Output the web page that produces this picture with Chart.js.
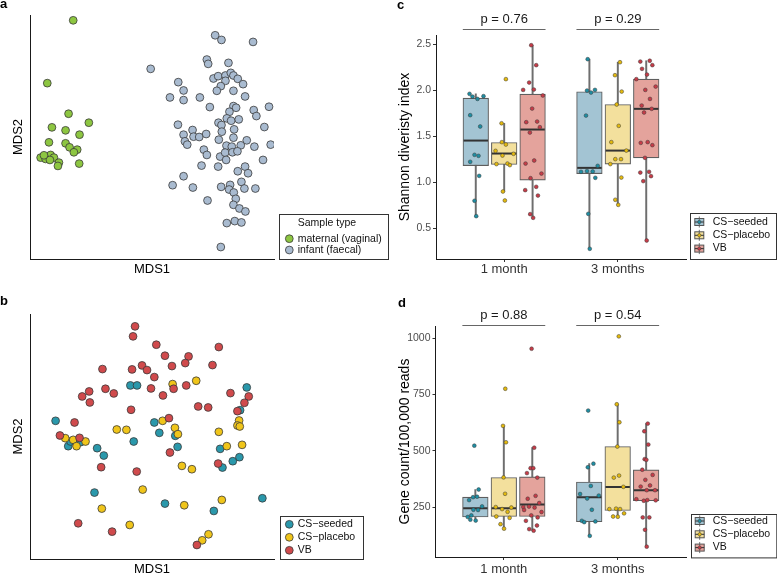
<!DOCTYPE html>
<html>
<head>
<meta charset="utf-8">
<script src="https://cdn.jsdelivr.net/npm/chart.js@4.4.1/dist/chart.umd.min.js"></script>
<style>
  html, body { margin: 0; padding: 0; background: #fff; }
  #fig { position: relative; width: 777px; height: 574px; overflow: hidden; }
  #fig canvas { position: absolute; }
  .tag { position: absolute; font: bold 13px/13px "Liberation Sans", Arial, sans-serif; color: #000; }
</style>
</head>
<body>
<div id="fig">
  <canvas id="mdsAll" width="390" height="281" style="left:0;top:0"></canvas>
  <canvas id="mdsInfant" width="390" height="296" style="left:0;top:287px"></canvas>
  <canvas id="shannon" width="382" height="287" style="left:395px;top:0"></canvas>
  <canvas id="genes" width="382" height="296" style="left:395px;top:287px"></canvas>
  <div class="tag" style="left:0;top:-3px">a</div>
  <div class="tag" style="left:0;top:294px">b</div>
  <div class="tag" style="left:397px;top:-2px">c</div>
  <div class="tag" style="left:398px;top:296px">d</div>
</div>
<script>
// a: MDS of maternal vaginal vs infant faecal samples [MDS1, MDS2]
var maternalPts = [
  [-0.237, 0.351], [-0.315, 0.162], [-0.251, 0.070], [-0.190, 0.043], [-0.301, 0.029], [-0.260, 0.020],
  [-0.218, 0.007], [-0.310, -0.016], [-0.260, -0.019], [-0.248, -0.031], [-0.225, -0.038], [-0.235, -0.046],
  [-0.219, -0.080], [-0.327, -0.059], [-0.335, -0.062], [-0.305, -0.054], [-0.295, -0.062], [-0.320, -0.066],
  [-0.307, -0.069], [-0.280, -0.077], [-0.283, -0.087], [-0.325, -0.055]
];
var infantPts = [
  [0.190, 0.306], [0.209, 0.292], [0.304, 0.286], [-0.004, 0.205], [0.165, 0.233], [0.169, 0.220], [0.230, 0.223],
  [0.079, 0.165], [0.095, 0.140], [0.054, 0.119], [0.095, 0.111], [0.144, 0.119], [0.185, 0.176], [0.199, 0.183],
  [0.221, 0.185], [0.221, 0.169], [0.237, 0.193], [0.245, 0.185], [0.258, 0.175], [0.274, 0.159], [0.207, 0.153],
  [0.195, 0.139], [0.245, 0.139], [0.280, 0.122], [0.174, 0.090], [0.245, 0.093], [0.253, 0.088], [0.233, 0.076],
  [0.225, 0.056], [0.306, 0.081], [0.352, 0.091], [0.314, 0.063], [0.078, 0.037], [0.122, 0.021], [0.095, 0.007],
  [0.125, 0.001], [0.142, 0.000], [0.163, 0.009], [0.099, -0.013], [0.106, -0.023], [0.200, 0.043], [0.209, 0.036],
  [0.238, 0.049], [0.261, 0.053], [0.247, 0.023], [0.210, 0.016], [0.201, -0.008], [0.245, -0.002], [0.285, -0.010],
  [0.224, -0.026], [0.240, -0.029], [0.267, -0.025], [0.308, -0.029], [0.357, -0.023], [0.338, 0.030], [0.156, -0.038],
  [0.165, -0.054], [0.205, -0.059], [0.220, -0.047], [0.242, -0.046], [0.257, -0.043], [0.223, -0.069], [0.149, -0.086],
  [0.199, -0.089], [0.258, -0.103], [0.280, -0.089], [0.289, -0.109], [0.334, -0.069], [0.095, -0.118], [0.062, -0.145],
  [0.123, -0.152], [0.208, -0.150], [0.235, -0.144], [0.232, -0.158], [0.246, -0.167], [0.269, -0.135], [0.278, -0.155],
  [0.311, -0.155], [0.167, -0.191], [0.252, -0.186], [0.245, -0.204], [0.263, -0.215], [0.281, -0.224], [0.225, -0.259],
  [0.249, -0.253], [0.269, -0.257], [0.207, -0.331]
];

// b: MDS of infant samples by group
var seededPts = [
  [-0.290, 0.047], [-0.252, -0.029], [-0.245, -0.015], [-0.215, -0.017], [-0.165, -0.035], [-0.145, -0.057],
  [-0.065, 0.153], [-0.045, 0.153], [-0.055, -0.015], [0.007, 0.042], [0.022, 0.011], [0.070, 0.002],
  [0.077, -0.031], [0.205, -0.037], [0.212, -0.093], [0.243, -0.074], [0.263, -0.062], [0.285, 0.147],
  [0.265, 0.079], [-0.173, -0.168], [0.039, -0.201], [0.186, -0.223], [0.332, -0.185]
];
var placeboPts = [
  [-0.261, -0.005], [-0.237, -0.010], [-0.227, -0.029], [-0.200, -0.015], [-0.106, 0.021], [-0.077, 0.020],
  [0.062, 0.157], [0.133, 0.167], [0.032, 0.047], [0.069, 0.026], [0.078, 0.007], [0.201, 0.014],
  [0.262, 0.048], [0.257, 0.033], [0.264, 0.030], [0.225, -0.029], [0.271, -0.025], [0.090, -0.088],
  [0.120, -0.098], [-0.028, -0.159], [-0.151, -0.216], [0.097, -0.206], [0.210, -0.190], [-0.067, -0.265],
  [0.170, -0.293], [0.151, -0.311]
];
var vbPts = [
  [-0.051, 0.330], [-0.057, 0.300], [0.013, 0.275], [0.039, 0.242], [0.060, 0.211], [0.110, 0.240], [0.100, 0.220],
  [0.201, 0.268], [0.182, 0.214], [-0.149, 0.202], [-0.060, 0.201], [-0.030, 0.213], [-0.015, 0.199], [0.007, 0.178],
  [-0.003, 0.144], [0.065, 0.143], [0.103, 0.153], [0.033, 0.123], [-0.140, 0.143], [-0.115, 0.129], [-0.189, 0.135],
  [-0.210, 0.120], [-0.187, 0.102], [-0.063, 0.080], [0.139, 0.090], [0.169, 0.087], [0.236, 0.130], [0.291, 0.120],
  [0.278, 0.101], [0.257, 0.076], [-0.233, 0.042], [-0.277, 0.003], [-0.218, -0.004], [0.051, 0.055], [0.054, -0.048],
  [-0.153, -0.092], [-0.046, -0.105], [0.199, -0.081], [-0.222, -0.260], [-0.120, -0.285], [0.135, -0.325]
];

var groups = ['CS\u2212seeded', 'CS\u2212placebo', 'VB'];
var timepoints = ['1 month', '3 months'];

// c: Shannon index. Box rows: [low whisker, Q1, median, Q3, high whisker], 1 month x3 groups then 3 months x3
var shannonStats = [
  [0.630, 1.180, 1.452, 1.913, 1.960],
  [0.898, 1.192, 1.311, 1.431, 1.640],
  [0.612, 1.022, 1.572, 1.957, 2.489],
  [0.275, 1.093, 1.155, 1.982, 2.337],
  [0.753, 1.196, 1.343, 1.844, 2.304],
  [0.365, 1.264, 1.797, 2.120, 2.320]
];
// jittered samples [x on timepoint axis, value]
var shannonSeeded = [
  [0.695, 1.960], [0.721, 1.930], [0.765, 1.905], [0.818, 1.935], [0.701, 1.728], [0.789, 1.605], [0.739, 1.297],
  [0.774, 1.286], [0.701, 1.221], [0.780, 1.068], [0.739, 0.797], [0.754, 0.630],
  [1.735, 2.337], [1.729, 1.996], [1.764, 1.974], [1.799, 2.003], [1.720, 1.724], [1.823, 1.177], [1.676, 1.112],
  [1.729, 1.120], [1.779, 1.116], [1.802, 1.047], [1.740, 0.655], [1.753, 0.275]
];
var shannonPlacebo = [
  [1.015, 2.120], [0.977, 1.640], [0.980, 1.435], [1.015, 1.409], [0.924, 1.340], [0.985, 1.289], [1.082, 1.308],
  [0.932, 1.196], [1.029, 1.202], [1.050, 1.185], [0.989, 0.898], [1.006, 0.800],
  [2.019, 2.304], [1.975, 2.163], [2.034, 1.985], [1.990, 1.844], [2.008, 1.612], [1.943, 1.435], [2.075, 1.343],
  [1.978, 1.250], [2.028, 1.250], [1.934, 1.196], [2.031, 1.050], [1.978, 0.808], [2.004, 0.753]
];
var shannonVB = [
  [1.238, 2.489], [1.282, 2.272], [1.220, 2.083], [1.261, 2.007], [1.167, 2.003], [1.340, 1.942], [1.246, 1.800],
  [1.194, 1.652], [1.290, 1.659], [1.314, 1.598], [1.226, 1.539], [1.264, 1.235], [1.188, 1.202], [1.328, 1.093],
  [1.232, 1.043], [1.282, 0.949], [1.185, 0.913], [1.297, 0.854], [1.229, 0.652], [1.255, 0.612],
  [2.198, 2.311], [2.281, 2.320], [2.304, 2.272], [2.213, 2.232], [2.257, 2.170], [2.163, 2.120], [2.242, 2.003],
  [2.333, 2.039], [2.283, 1.905], [2.210, 1.833], [2.231, 1.757], [2.298, 1.797], [2.202, 1.427], [2.263, 1.435],
  [2.304, 1.402], [2.239, 1.264], [2.198, 1.104], [2.275, 1.112], [2.292, 1.065], [2.224, 1.011], [2.254, 0.365]
];
var shannonTicks = [0.5, 1.0, 1.5, 2.0, 2.5];
var shannonP = ['p = 0.76', 'p = 0.29'];

// d: gene count per 100,000 reads
var geneStats = [
  [190, 206, 245, 294, 328],
  [154, 208, 245, 381, 611],
  [145, 208, 261, 384, 514],
  [122, 185, 294, 361, 443],
  [207, 235, 339, 519, 707],
  [74, 278, 325, 415, 621]
];
var geneSeeded = [
  [0.741, 523], [0.779, 328], [0.730, 294], [0.765, 296], [0.695, 281], [0.809, 253], [0.733, 238], [0.774, 237],
  [0.715, 213], [0.683, 206], [0.706, 194], [0.753, 190],
  [1.741, 679], [1.787, 443], [1.738, 427], [1.764, 344], [1.670, 308], [1.834, 301], [1.732, 288], [1.773, 238],
  [1.685, 189], [1.706, 183], [1.804, 186], [1.755, 122]
];
var genePlacebo = [
  [1.013, 776], [0.993, 611], [1.019, 538], [0.998, 382], [1.011, 309], [0.929, 250], [0.985, 241], [1.033, 229],
  [1.066, 248], [0.934, 208], [1.051, 202], [0.971, 174], [1.002, 154],
  [2.010, 1009], [1.992, 707], [2.015, 627], [1.997, 519], [2.012, 390], [1.966, 381], [2.050, 340], [1.927, 241],
  [1.986, 243], [2.021, 241], [2.056, 222], [1.960, 208], [2.001, 207]
];
var geneVB = [
  [1.244, 954], [1.267, 514], [1.203, 401], [1.235, 423], [1.259, 423], [1.294, 381], [1.210, 287], [1.279, 300],
  [1.311, 268], [1.171, 250], [1.221, 252], [1.270, 248], [1.331, 228], [1.241, 213], [1.297, 204], [1.194, 189],
  [1.291, 168], [1.223, 152], [1.262, 145], [1.178, 237],
  [2.264, 621], [2.234, 587], [2.269, 528], [2.237, 463], [2.252, 460], [2.216, 416], [2.243, 371], [2.307, 393],
  [2.202, 341], [2.284, 346], [2.255, 325], [2.328, 325], [2.164, 285], [2.229, 278], [2.334, 280], [2.260, 281],
  [2.220, 204], [2.278, 204], [2.240, 149], [2.255, 74]
];
var geneTicks = [250, 500, 750, 1000];
var geneP = ['p = 0.88', 'p = 0.54'];

var FONT = '"Liberation Sans", Arial, Helvetica, sans-serif';
var EDGE = '#3a3a3a';
var DODGE = [-0.25, 0, 0.25];
var BOX_FILL = ['#a3c4d3', '#f3e09d', '#e4a39c'];
var DOT_COLOR = ['#1f8ea3', '#e3b90e', '#c63c48'];
var GROUP_COLOR = ['#2a98ab', '#f0c51a', '#d04a4c'];

Chart.defaults.font.family = FONT;
Chart.defaults.color = '#333';

var toXY = function (p) {
    return {x: p[0], y: p[1]};
};

function drawBoxKey(ctx, cx, cy, fill, dot) {
    ctx.fillStyle = fill;
    ctx.fillRect(cx - 4.5, cy - 3.5, 9, 7);
    ctx.lineWidth = 1;
    ctx.strokeStyle = '#6e6e6e';
    ctx.beginPath();
    ctx.moveTo(cx, cy - 5.5);
    ctx.lineTo(cx, cy + 5.5);
    ctx.stroke();
    ctx.strokeStyle = '#555';
    ctx.strokeRect(cx - 4.5, cy - 3.5, 9, 7);
    ctx.strokeStyle = '#333';
    ctx.beginPath();
    ctx.moveTo(cx - 4.5, cy);
    ctx.lineTo(cx + 4.5, cy);
    ctx.stroke();
    ctx.beginPath();
    ctx.arc(cx, cy, 1.7, 0, Math.PI * 2);
    ctx.fillStyle = dot;
    ctx.fill();
    ctx.lineWidth = 0.5;
    ctx.strokeStyle = EDGE;
    ctx.stroke();
}

// boxed legend to the right of the plot, bottom-aligned with the x axis
function keyLegend(o) {
    return {
        id: 'keyLegend',
        afterDraw: function (chart) {
            var ctx = chart.ctx,
                area = chart.chartArea,
                x0 = area.right + o.gap,
                y0 = area.bottom - o.height,
                items = chart.data.datasets.filter(function (d) { return d.label; });

            ctx.save();
            ctx.lineWidth = 1;
            ctx.strokeStyle = '#333';
            ctx.strokeRect(Math.round(x0) + 0.5, Math.round(y0) + 0.5, o.width, o.height);
            ctx.font = '10.5px ' + FONT;
            ctx.textBaseline = 'middle';
            ctx.textAlign = 'left';
            if (o.title) {
                ctx.fillStyle = '#111';
                ctx.fillText(o.title, x0 + o.textX, y0 + o.titleY);
            }
            items.forEach(function (d, i) {
                var cx = x0 + o.keyX,
                    cy = y0 + o.first + i * o.step;
                if (o.box) {
                    drawBoxKey(ctx, cx, cy, d.keyFill, d.backgroundColor);
                } else {
                    ctx.beginPath();
                    ctx.arc(cx, cy, 3.9, 0, Math.PI * 2);
                    ctx.fillStyle = d.backgroundColor;
                    ctx.fill();
                    ctx.lineWidth = 0.8;
                    ctx.strokeStyle = EDGE;
                    ctx.stroke();
                }
                ctx.fillStyle = '#111';
                ctx.fillText(d.label, x0 + o.textX, cy);
            });
            ctx.restore();
        }
    };
}

// p-value brackets above each timepoint
function pBracket(labels, o) {
    return {
        id: 'pBracket',
        afterDraw: function (chart) {
            var ctx = chart.ctx,
                xs = chart.scales.x,
                y = Math.round(chart.chartArea.top - o.lift) + 0.5;

            ctx.save();
            ctx.font = '13px ' + FONT;
            ctx.textAlign = 'center';
            ctx.textBaseline = 'alphabetic';
            labels.forEach(function (lab, i) {
                var l = xs.getPixelForValue(i + 1 - o.half),
                    r = xs.getPixelForValue(i + 1 + o.half);
                ctx.strokeStyle = '#666';
                ctx.lineWidth = 1;
                ctx.beginPath();
                ctx.moveTo(l, y);
                ctx.lineTo(r, y);
                ctx.stroke();
                ctx.fillStyle = '#1a1a1a';
                ctx.fillText(lab, (l + r) / 2, y - o.gap);
            });
            ctx.restore();
        }
    };
}

var mdsChart = function (id, series, lay, legend) {
    return new Chart(document.getElementById(id), {
        type: 'scatter',
        data: {
            datasets: series.map(function (s, i) {
                return {
                    label: s.label,
                    data: s.pts.map(toXY),
                    backgroundColor: s.color,
                    borderColor: EDGE,
                    borderWidth: 0.8,
                    pointRadius: 3.9,
                    order: series.length - i
                };
            })
        },
        options: {
            responsive: false,
            animation: false,
            events: [],
            layout: {padding: lay.padding},
            scales: {
                x: {
                    type: 'linear', min: -0.367, max: 0.367, bounds: 'data',
                    ticks: {display: false},
                    grid: {display: false},
                    border: {display: true, color: '#1a1a1a', width: 1},
                    title: {display: true, text: 'MDS1', color: '#000', font: {size: 13}, padding: {top: 0, bottom: lay.titleBottom}},
                    afterFit: function (s) { s.height = lay.xHeight; }
                },
                y: {
                    type: 'linear', min: -0.367, max: 0.367, bounds: 'data',
                    ticks: {display: false},
                    grid: {display: false},
                    border: {display: true, color: '#1a1a1a', width: 1},
                    title: {display: true, text: 'MDS2', color: '#000', font: {size: 13}, padding: {top: 11, bottom: 0}},
                    afterFit: function (s) { s.width = 30; }
                }
            },
            plugins: {legend: {display: false}, tooltip: {enabled: false}}
        },
        plugins: [keyLegend(legend)]
    });
};

var boxChart = function (id, stats, pts, axis, lay, legend, bracket) {
    var whiskers = [], boxes = [], medians = [], fills = [], datasets;

    stats.forEach(function (s, i) {
        var g = i % groups.length,
            x = Math.floor(i / groups.length) + 1 + DODGE[g];
        whiskers.push({x: x, y: [s[0], s[4]]});
        boxes.push({x: x, y: [s[1], s[3]]});
        medians.push({x: x, y: s[2]});
        fills.push(BOX_FILL[g]);
    });

    datasets = [
        {type: 'bar', data: whiskers, backgroundColor: '#6e6e6e', borderWidth: 0, barThickness: 1.3, grouped: false, order: 5},
        {type: 'bar', data: boxes, backgroundColor: fills, borderColor: '#5e5e5e', borderWidth: 1.1,
            borderSkipped: false, barThickness: 25.6, grouped: false, order: 4},
        {type: 'scatter', data: medians, pointStyle: 'line', pointRadius: 12.2, borderColor: '#333', borderWidth: 2, order: 3}
    ];
    pts.forEach(function (p, g) {
        datasets.push({
            type: 'scatter',
            label: groups[g],
            data: p.map(toXY),
            backgroundColor: DOT_COLOR[g],
            keyFill: BOX_FILL[g],
            borderColor: EDGE,
            borderWidth: 0.5,
            pointRadius: 1.9,
            order: 1
        });
    });

    return new Chart(document.getElementById(id), {
        type: 'scatter',
        data: {datasets: datasets},
        options: {
            responsive: false,
            animation: false,
            events: [],
            layout: {padding: lay.padding},
            scales: {
                x: {
                    type: 'linear', min: 0.4, max: 2.6, bounds: 'data', offset: false,
                    afterBuildTicks: function (s) {
                        s.ticks = timepoints.map(function (t, i) { return {value: i + 1}; });
                    },
                    ticks: {
                        callback: function (v) { return timepoints[Math.round(v) - 1]; },
                        color: '#333', font: {size: 13}, padding: lay.xPad
                    },
                    grid: {display: true, offset: false, drawOnChartArea: false, tickLength: 3, color: '#333'},
                    border: {display: true, color: '#1a1a1a', width: 1},
                    afterFit: function (s) { s.height = lay.xHeight; }
                },
                y: {
                    type: 'linear', min: axis.min, max: axis.max, bounds: 'data',
                    afterBuildTicks: function (s) {
                        s.ticks = axis.ticks.map(function (v) { return {value: v}; });
                    },
                    ticks: {callback: axis.format, color: '#4d4d4d', font: {size: 10.5}, padding: 2},
                    grid: {display: true, drawOnChartArea: false, tickLength: 3, color: '#333'},
                    border: {display: true, color: '#1a1a1a', width: 1},
                    title: {display: true, text: axis.title, color: '#000', font: {size: 14}, padding: {top: 1.6, bottom: 0}},
                    afterFit: function (s) { s.width = lay.yWidth; }
                }
            },
            plugins: {legend: {display: false}, tooltip: {enabled: false}}
        },
        plugins: [keyLegend(legend), pBracket(bracket.labels, bracket)]
    });
};

mdsChart('mdsAll', [
    {label: 'maternal (vaginal)', pts: maternalPts, color: '#8dc641'},
    {label: 'infant (faecal)', pts: infantPts, color: '#a9bbd0'}
], {padding: {top: 15, right: 116, bottom: 0, left: 0}, xHeight: 22, titleBottom: 4.2},
   {gap: 5, width: 109, height: 45, title: 'Sample type', titleY: 9, first: 24.7, step: 11.3, keyX: 10.3, textX: 18.7});

mdsChart('mdsInfant', [
    {label: groups[0], pts: seededPts, color: GROUP_COLOR[0]},
    {label: groups[1], pts: placeboPts, color: GROUP_COLOR[1]},
    {label: groups[2], pts: vbPts, color: GROUP_COLOR[2]}
], {padding: {top: 27, right: 116, bottom: 0, left: 0}, xHeight: 24, titleBottom: 5.7},
   {gap: 6, width: 83, height: 43, first: 8.3, step: 13, keyX: 9.3, textX: 17.7});

boxChart('shannon', shannonStats, [shannonSeeded, shannonPlacebo, shannonVB],
    {min: 0.164, max: 2.60, ticks: shannonTicks, title: 'Shannon diveristy index',
        format: function (v) { return v.toFixed(1); }},
    {padding: {top: 35, right: 91, bottom: 0, left: 0}, yWidth: 41, xHeight: 28, xPad: 0},
    {gap: 4, width: 86, height: 46, box: true, first: 9, step: 13.3, keyX: 9.3, textX: 22.7},
    {labels: shannonP, half: 0.364, lift: 6, gap: 6.5});

boxChart('genes', geneStats, [geneSeeded, genePlacebo, geneVB],
    {min: 28, max: 1055, ticks: geneTicks, title: 'Gene count/100,000 reads',
        format: function (v) { return String(v); }},
    {padding: {top: 39, right: 91, bottom: 0, left: 0}, yWidth: 40.5, xHeight: 26, xPad: 2},
    {gap: 4.7, width: 85.3, height: 43.4, box: true, first: 7.4, step: 13.3, keyX: 9, textX: 22},
    {labels: geneP, half: 0.364, lift: 1, gap: 6.7});
</script>
</body>
</html>
